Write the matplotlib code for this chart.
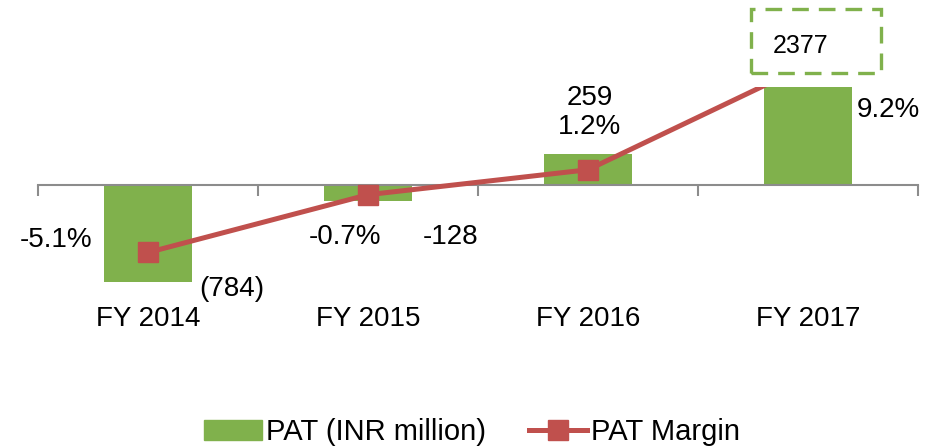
import matplotlib
matplotlib.use("Agg")
import matplotlib.pyplot as plt
from matplotlib.patches import Patch, Rectangle
from matplotlib.lines import Line2D

# Data
years = ["FY 2014", "FY 2015", "FY 2016", "FY 2017"]
pat = [-784, -128, 259, 2377]
pat_labels = ["(784)", "-128", "259", "2377"]
margin = [-5.1, -0.7, 1.2, 9.2]
margin_labels = ["-5.1%", "-0.7%", "1.2%", "9.2%"]

green = "#80B14C"
red = "#C0504D"
plt.rcParams["font.family"] = ["Liberation Sans", "DejaVu Sans"]
fs = 20

fig = plt.figure(figsize=(9.44, 4.48), dpi=100)
ax = fig.add_axes([38 / 944, 1 - 284 / 448, 880 / 944, 197 / 448])
x = list(range(len(years)))

ax.bar(x, pat, width=0.4, color=green, zorder=2)
ax.set_xlim(-0.5, 3.5)
ax.set_ylim(-800, 800)
for s in ["top", "left", "right"]:
    ax.spines[s].set_visible(False)
ax.spines["bottom"].set_position(("data", 0))
ax.spines["bottom"].set_color("#8C8C8C")
ax.spines["bottom"].set_linewidth(1.5)
ax.set_xticks([-0.5, 0.5, 1.5, 2.5, 3.5])
ax.set_xticklabels([])
ax.tick_params(axis="x", length=8, width=1.5, color="#8C8C8C", direction="out")
ax.set_yticks([])
ax.patch.set_visible(False)

# category labels below plot
for i, name in enumerate(years):
    ax.annotate(name, xy=(i, 0), xycoords=("data", "axes fraction"),
                xytext=(0, -35), textcoords="offset pixels",
                ha="center", va="center", fontsize=fs)

ax2 = ax.twinx()
ax2.plot(x, margin, color=red, lw=3.6, marker="s", markersize=15, zorder=3)
ax2.set_ylim(-7.5, 7.5)
ax2.axis("off")

# bar labels
bar_off = [(84, -7), (83, -36), (2, 56)]
for i in range(3):
    ax.annotate(pat_labels[i], xy=(i, pat[i]), xytext=bar_off[i],
                textcoords="offset pixels", ha="center", va="center",
                fontsize=fs, annotation_clip=False)
ax.annotate(pat_labels[3], xy=(3, 1), xycoords=("data", "axes fraction"),
            xytext=(-7, 41), textcoords="offset pixels", ha="center",
            va="center", fontsize=18, annotation_clip=False)
fig.patches.append(Rectangle((751 / 944, 1 - 73 / 448), 130 / 944, 64 / 448,
                             transform=fig.transFigure, fill=False,
                             edgecolor=green, lw=2.4, linestyle=(0, (5, 3))))

# margin labels
pct_off = [(-92, 12), (-23, -42), (1, 43), (80, -45)]
for i in range(4):
    ax2.annotate(margin_labels[i], xy=(i, margin[i]), xytext=pct_off[i],
                 textcoords="offset pixels", ha="center", va="center",
                 fontsize=fs, annotation_clip=False)

handles = [Patch(color=green),
           Line2D([], [], color=red, lw=3.6, marker="s", markersize=14)]
fig.legend(handles, ["PAT (INR million)", "PAT Margin"], loc="center",
           bbox_to_anchor=(0.5, 1 - 432 / 448), ncol=2, frameon=False,
           fontsize=21, handlelength=2.0, handletextpad=0.15, columnspacing=1.45)

fig.savefig("out.png", dpi=100)
